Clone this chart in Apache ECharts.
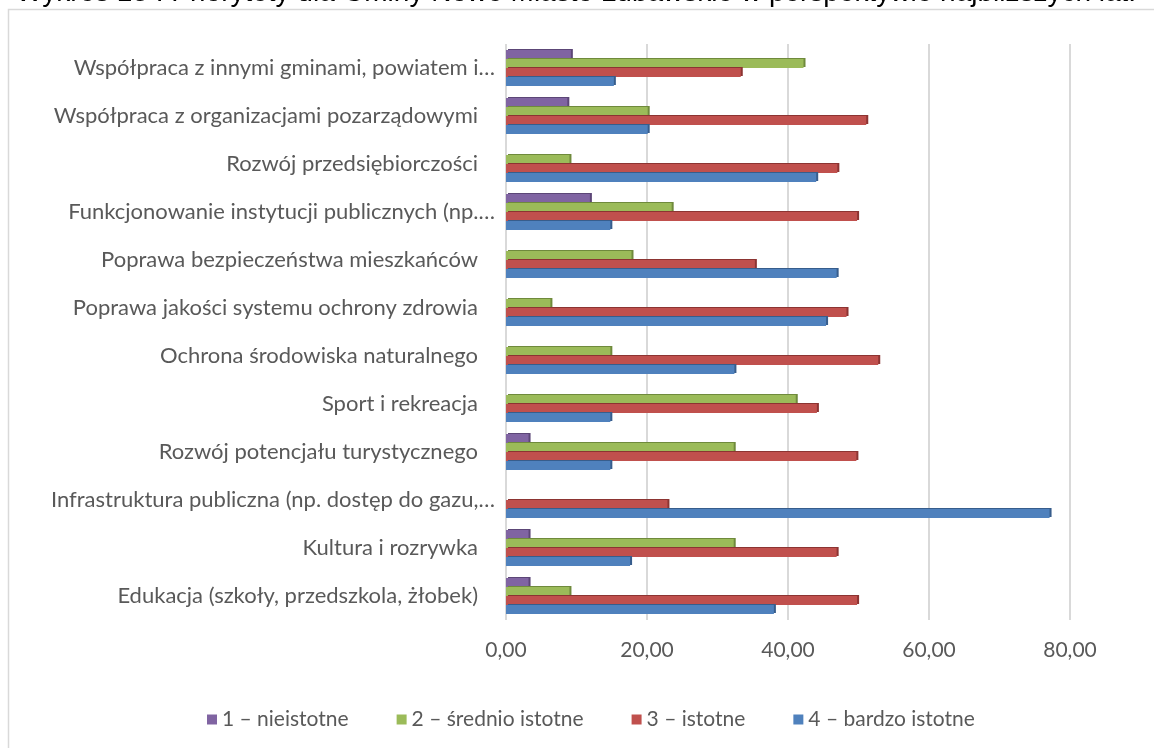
<!DOCTYPE html>
<html>
<head>
<meta charset="utf-8">
<script src="https://cdn.jsdelivr.net/npm/echarts@6/dist/echarts.min.js"></script>
<style>
  html, body { margin: 0; padding: 0; background: #ffffff; }
  #chart { width: 1154px; height: 748px; }
</style>
</head>
<body>
<div id="chart"></div>
<script>
// Categories, listed top to bottom as they appear on the chart
const categories = [
  'Współpraca z innymi gminami, powiatem i…',
  'Współpraca z organizacjami pozarządowymi',
  'Rozwój przedsiębiorczości',
  'Funkcjonowanie instytucji publicznych (np.…',
  'Poprawa bezpieczeństwa mieszkańców',
  'Poprawa jakości systemu ochrony zdrowia',
  'Ochrona środowiska naturalnego',
  'Sport i rekreacja',
  'Rozwój potencjału turystycznego',
  'Infrastruktura publiczna (np. dostęp do gazu,…',
  'Kultura i rozrywka',
  'Edukacja (szkoły, przedszkola, żłobek)'
];

// Share of answers (%) for each rating
const nieistotne     = [9.2, 8.7, 0, 11.9, 0, 0, 0, 0, 3.2, 0, 3.2, 3.2];
const sredniIstotne  = [42.2, 20.1, 9.0, 23.5, 17.8, 6.3, 14.8, 41.1, 32.3, 0, 32.3, 9.0];
const istotne        = [33.3, 51.1, 47.0, 49.8, 35.3, 48.3, 52.8, 44.1, 49.7, 22.9, 46.9, 49.8];
const bardzoIstotne  = [15.3, 20.1, 44.0, 14.8, 46.9, 45.4, 32.4, 14.8, 14.8, 77.1, 17.6, 38.0];

const seriesNames = ['1 – nieistotne', '2 – średnio istotne', '3 – istotne', '4 – bardzo istotne'];
const xTicks = [0, 20, 40, 60, 80];

const titleText = 'Wykres 13 : Priorytety dla Gminy Nowe Miasto Lubawskie w perspektywie najbliższych lat.';

const colors = ['#8064A2', '#9BBB59', '#C0504D', '#4F81BD'];
const edges  = ['#5c4677', '#6f8a3c', '#8c3432', '#375d8c'];
const values = [nieistotne, sredniIstotne, istotne, bardzoIstotne];

const font = 'Lato, "Open Sans", sans-serif';
const textGray = '#595959';

const chart = echarts.init(document.getElementById('chart'), null, { renderer: 'canvas' });

chart.setOption({
  backgroundColor: '#ffffff',
  animation: false,
  textStyle: { fontFamily: font },
  graphic: [
    {
      type: 'rect',
      shape: { x: 8.5, y: 9.5, width: 1200, height: 800 },
      style: { fill: 'none', stroke: '#d9d9d9', lineWidth: 1.5 },
      z: -10
    },
    {
      type: 'text',
      x: 16,
      y: -7,
      style: {
        text: titleText,
        font: '28px "Liberation Sans", Arial, sans-serif',
        fill: '#000000',
        verticalAlign: 'middle'
      }
    }
  ],
  legend: {
    data: seriesNames,
    top: 704,
    left: 202,
    icon: 'rect',
    itemWidth: 10,
    itemHeight: 10,
    itemGap: 48,
    textStyle: { fontFamily: font, fontSize: 21, color: textGray }
  },
  grid: { left: 506, right: 84, top: 44, bottom: 128, containLabel: false },
  xAxis: {
    type: 'value',
    min: xTicks[0],
    max: xTicks[xTicks.length - 1],
    interval: xTicks[1] - xTicks[0],
    axisLine: { show: false },
    axisTick: { show: false },
    splitLine: { show: true, lineStyle: { color: '#d9d9d9', width: 2 } },
    axisLabel: {
      margin: 20,
      fontFamily: font,
      fontSize: 21,
      color: textGray,
      formatter: v => v.toFixed(2).replace('.', ',')
    }
  },
  yAxis: {
    type: 'category',
    data: categories,
    inverse: true,
    axisLine: { show: false },
    axisTick: { show: false },
    splitLine: { show: false },
    axisLabel: {
      margin: 11,
      interval: 0,
      fontFamily: font,
      fontSize: 22,
      color: textGray,
      formatter: v => v.endsWith('…') ? '{t|' + v + '}' : '{n|' + v + '}',
      rich: {
        t: { fontFamily: font, fontSize: 22, color: textGray },
        n: { fontFamily: font, fontSize: 22, color: textGray, padding: [0, 17, 0, 0] }
      }
    }
  },
  series: seriesNames.map((name, i) => ({
    name: name,
    type: 'bar',
    data: values[i],
    barWidth: 9,
    barGap: '0%',
    itemStyle: {
      color: colors[i],
      shadowColor: edges[i],
      shadowOffsetX: 2,
      shadowOffsetY: -1,
      shadowBlur: 0
    }
  }))
});
</script>
</body>
</html>
